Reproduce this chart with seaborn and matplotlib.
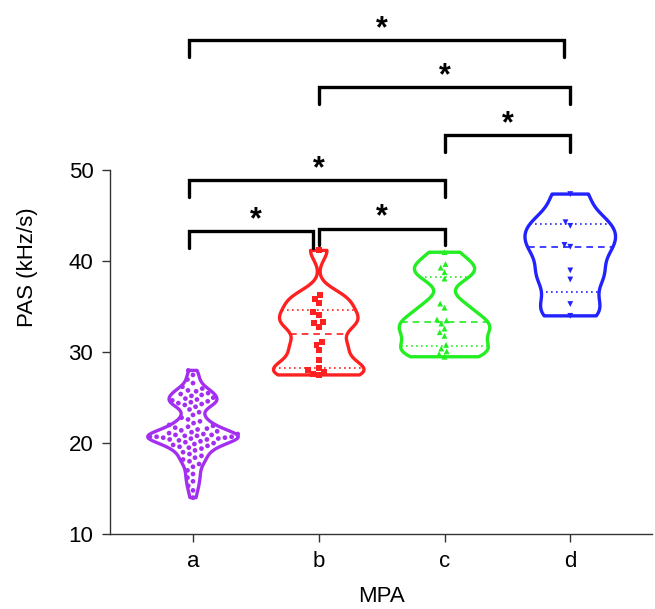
import numpy as np
import pandas as pd
import matplotlib
matplotlib.use("Agg")
import matplotlib.pyplot as plt
import seaborn as sns

sns.set_theme(style="ticks")
plt.rcParams['font.family'] = ['Liberation Sans', 'DejaVu Sans']

groups = ["a", "b", "c", "d"]
colors = ["#a42ff0", "#ff2020", "#22ee22", "#2222ff"]
markers = ["o", "s", "^", "v"]

vals_a = [28.0, 27.5, 27.0, 26.6, 26.2, 26.0, 25.8, 25.7, 25.5, 25.4, 25.3, 25.2,
          25.0, 24.9, 24.8, 24.7, 24.6, 24.5, 24.4, 24.3, 24.2, 24.0, 23.7, 23.4,
          23.1, 22.8, 22.6, 22.4, 22.2, 22.0, 21.9, 21.8, 21.7, 21.6, 21.5, 21.4,
          21.3, 21.2, 21.1, 21.0, 21.0, 20.9, 20.9, 20.8, 20.8, 20.7, 20.7, 20.7,
          20.6, 20.6, 20.5, 20.5, 20.4, 20.4, 20.3, 20.2, 20.1, 20.0, 19.9, 19.8,
          19.7, 19.6, 19.5, 19.4, 19.2, 19.0, 18.8, 18.6, 18.4, 18.2, 18.0, 17.7,
          17.4, 17.0, 16.6, 16.2, 15.8, 15.3, 14.8, 14.0]
vals_b = [41.2, 36.3, 35.9, 35.4, 34.4, 34.1, 33.3, 33.2, 32.8, 31.1, 30.8, 30.2,
          29.1, 28.3, 28.0, 27.8, 27.6, 27.5]
vals_c = [41.0, 39.7, 39.3, 38.8, 38.1, 35.35, 34.9, 33.6, 33.5, 33.15, 32.6, 32.2,
          30.8, 30.4, 30.1, 29.8, 29.5, 31.8]
vals_d = [47.4, 44.3, 43.9, 41.8, 41.6, 39.0, 38.0, 35.3, 34.0]

all_vals = [vals_a, vals_b, vals_c, vals_d]
df = pd.DataFrame({
    "MPA": np.concatenate([[g] * len(v) for g, v in zip(groups, all_vals)]),
    "PAS": np.concatenate(all_vals),
})

# significance brackets: (left group, right group, bar height)
brackets = [(0, 3, 64.3), (1, 3, 59.2), (2, 3, 53.85), (0, 2, 48.9), (0, 1, 43.3), (1, 2, 43.6)]
bw = [0.42, 0.5, 0.5, 0.55]

fig = plt.figure(figsize=(6.55, 6.09), dpi=100)
ax = fig.add_axes([110 / 655, 75 / 609, 542 / 655, 534 / 609])

polys = []
for k, g in enumerate(groups):
    sub = df[df["MPA"] == g]
    n0 = len(ax.collections)
    sns.violinplot(data=sub, x="MPA", y="PAS", order=groups, color=colors[k],
                   fill=False, inner=None, cut=0, density_norm="width",
                   width=0.72, linewidth=2.4, bw_adjust=bw[k], ax=ax)
    polys.append(ax.collections[n0])

# quartile lines (Prism-style quartiles)
for k, (poly, v) in enumerate(zip(polys, all_vals)):
    if k == 0:
        continue
    verts = poly.get_paths()[0].vertices
    q1, med, q3 = np.percentile(v, [25, 50, 75], method="weibull")
    for q, ls in [(q1, (0, (1, 2))), (med, (0, (4, 3))), (q3, (0, (1, 2)))]:
        xs = []
        for (x0, y0), (x1, y1) in zip(verts[:-1], verts[1:]):
            if (y0 - q) * (y1 - q) <= 0 and y0 != y1:
                xs.append(x0 + (q - y0) * (x1 - x0) / (y1 - y0))
        if xs:
            ax.plot([min(xs), max(xs)], [q, q], color=colors[k], lw=1.2, ls=ls, zorder=2)

for k, g in enumerate(groups):
    sub = df[df["MPA"] == g]
    sns.swarmplot(data=sub, x="MPA", y="PAS", order=groups, color=colors[k],
                  marker=markers[k], size=3.4 if k == 0 else 4.2,
                  linewidth=1.2 if k == 0 else 0, edgecolor="none", ax=ax, zorder=3)

leg = 1.85
for i, j, h in brackets:
    xl = i - 0.03 if i == 0 else i
    xr = j - 0.05 if (i, j) == (0, 3) else (j - 0.045 if (i, j) == (0, 1) else j)
    ax.plot([xl, xl, xr, xr], [h - leg, h, h, h - leg], color="black", lw=2.4,
            solid_joinstyle="miter", zorder=4)
    ax.text((i + j) / 2, h + 1.2, "*", ha="center", va="center", fontsize=22,
            fontweight="bold", color="black")

ax.set_xlim(-0.66, 3.65)
ax.set_ylim(10, 68.75)
ax.set_yticks([10, 20, 30, 40, 50])
ax.spines["left"].set_bounds(10, 50)
ax.spines["top"].set_visible(False)
ax.spines["right"].set_visible(False)
for s in ["left", "bottom"]:
    ax.spines[s].set_linewidth(1.0)
    ax.spines[s].set_color("#333333")
ax.tick_params(axis="both", length=6, width=1.0, color="#333333", labelsize=16,
               pad=6, labelcolor="black")
ax.set_xlabel("MPA", fontsize=16, labelpad=10, color="black")
ax.set_ylabel("PAS (kHz/s)", fontsize=16, labelpad=22, color="black")

fig.savefig("out.png", dpi=100)
